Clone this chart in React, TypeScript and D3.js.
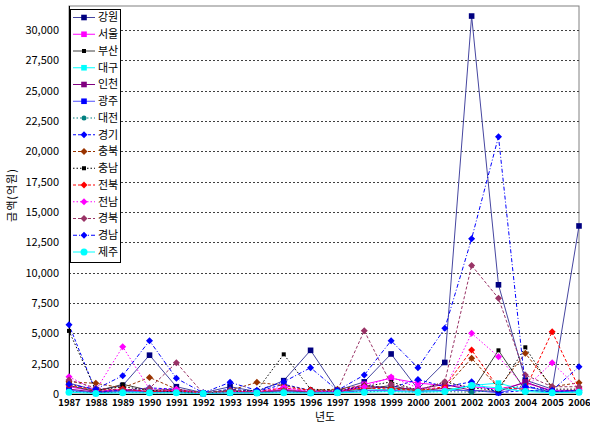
import * as d3 from 'd3';
import * as React from 'react';

const { useRef, useEffect } = React;

const width = 590;
const height = 430;
const margin = { top: 6, right: 11, bottom: 36, left: 69 };

const years = [
  '1987', '1988', '1989', '1990', '1991', '1992', '1993', '1994', '1995', '1996',
  '1997', '1998', '1999', '2000', '2001', '2002', '2003', '2004', '2005', '2006',
];

const yTicks = [0, 2500, 5000, 7500, 10000, 12500, 15000, 17500, 20000, 22500, 25000, 27500, 30000];

// 억원
const gangwon = [900, 300, 700, 3200, 600, 100, 600, 200, 1100, 3600, 300, 1000, 3300, 400, 2600, 31150, 9000, 1150, 400, 13850];
const seoul = [600, 200, 400, 200, 300, 50, 200, 150, 400, 200, 150, 800, 1300, 900, 700, 600, 400, 900, 300, 300];
const busan = [700, 200, 800, 300, 400, 50, 300, 100, 300, 100, 200, 400, 700, 200, 500, 200, 3600, 300, 200, 200];
const daegu = [300, 100, 200, 150, 200, 50, 150, 100, 200, 100, 150, 300, 400, 300, 300, 700, 900, 300, 200, 200];
const incheon = [400, 150, 300, 200, 200, 50, 150, 100, 300, 150, 150, 600, 500, 400, 800, 300, 200, 1000, 200, 300];
const gwangju = [300, 100, 200, 150, 150, 50, 100, 100, 200, 100, 100, 300, 300, 200, 300, 300, 100, 600, 150, 200];
const daejeon = [200, 100, 150, 100, 100, 50, 100, 100, 150, 100, 100, 200, 200, 150, 200, 150, 300, 700, 150, 150];
const gyeonggi = [5700, 200, 300, 500, 400, 50, 400, 200, 800, 300, 200, 700, 500, 1200, 600, 1000, 100, 300, 200, 300];
const chungbuk = [1000, 880, 500, 1370, 400, 100, 300, 960, 700, 300, 400, 700, 500, 300, 500, 2940, 500, 3350, 600, 930];
const chungnam = [5200, 300, 600, 300, 200, 50, 200, 300, 3270, 400, 300, 600, 1000, 300, 1000, 500, 300, 3850, 400, 400];
const jeonbuk = [750, 300, 410, 200, 300, 50, 200, 200, 500, 330, 250, 500, 400, 300, 600, 3625, 500, 400, 5130, 500];
const jeonnam = [1430, 300, 3900, 400, 400, 50, 200, 200, 580, 200, 200, 600, 1400, 500, 400, 5000, 3075, 500, 2580, 400];
const gyeongbuk = [1150, 500, 300, 470, 2580, 50, 300, 200, 300, 200, 300, 5215, 800, 300, 1000, 10600, 7890, 1565, 600, 600];
const gyeongnam = [800, 400, 1510, 4390, 1290, 100, 960, 300, 1000, 2170, 300, 1565, 4390, 2170, 5410, 12800, 21210, 600, 300, 2250];
const jeju = [150, 50, 100, 100, 100, 50, 100, 80, 100, 80, 100, 150, 200, 150, 200, 700, 500, 200, 100, 150];

type Series = {
  name: string;
  values: number[];
  line: string;
  mark: string;
  dash: string;
  shape: 'square' | 'diamond' | 'circle' | 'small';
};

const series: Series[] = [
  { name: '강원', values: gangwon, line: '#4646a0', mark: '#000080', dash: '', shape: 'square' },
  { name: '서울', values: seoul, line: '#ff00ff', mark: '#ff00ff', dash: '', shape: 'square' },
  { name: '부산', values: busan, line: '#404040', mark: '#000000', dash: '', shape: 'small' },
  { name: '대구', values: daegu, line: '#00ffff', mark: '#00ffff', dash: '', shape: 'square' },
  { name: '인천', values: incheon, line: '#800080', mark: '#800080', dash: '', shape: 'square' },
  { name: '광주', values: gwangju, line: '#5050ff', mark: '#0000ff', dash: '', shape: 'square' },
  { name: '대전', values: daejeon, line: '#008080', mark: '#008080', dash: '1.5,2', shape: 'circle' },
  { name: '경기', values: gyeonggi, line: '#0000ff', mark: '#0000ff', dash: '3,2', shape: 'diamond' },
  { name: '충북', values: chungbuk, line: '#993300', mark: '#993300', dash: '3,2', shape: 'diamond' },
  { name: '충남', values: chungnam, line: '#000000', mark: '#000000', dash: '1.5,2', shape: 'small' },
  { name: '전북', values: jeonbuk, line: '#ff0000', mark: '#ff0000', dash: '3,2', shape: 'diamond' },
  { name: '전남', values: jeonnam, line: '#ff00ff', mark: '#ff00ff', dash: '1.5,2', shape: 'diamond' },
  { name: '경북', values: gyeongbuk, line: '#993366', mark: '#993366', dash: '3,2', shape: 'diamond' },
  { name: '경남', values: gyeongnam, line: '#0000ff', mark: '#0000ff', dash: '4,2,1,2', shape: 'diamond' },
  { name: '제주', values: jeju, line: '#00ffff', mark: '#00ffff', dash: '', shape: 'circle' },
];

const font = '"Noto Sans CJK KR", "DejaVu Sans", sans-serif';

const drawMarker = (g: d3.Selection<any, any, any, any>, s: Series, cx: number, cy: number) => {
  if (s.shape === 'square' || s.shape === 'small') {
    const r = s.shape === 'square' ? 2.8 : 2;
    g.append('rect')
      .attr('x', cx - r)
      .attr('y', cy - r)
      .attr('width', r * 2)
      .attr('height', r * 2)
      .attr('fill', s.mark);
  } else if (s.shape === 'diamond') {
    g.append('path')
      .attr('d', `M${cx},${cy - 3.5}L${cx + 3.5},${cy}L${cx},${cy + 3.5}L${cx - 3.5},${cy}Z`)
      .attr('fill', s.mark);
  } else {
    g.append('circle')
      .attr('cx', cx)
      .attr('cy', cy)
      .attr('r', s.name === '제주' ? 3.5 : 2.5)
      .attr('fill', s.mark);
  }
};

export default () => {
  const rootRef = useRef<HTMLDivElement>(null);

  useEffect(() => {
    const rootEl = rootRef.current;
    if (!rootEl) {
      return;
    }
    d3.select(rootEl).selectAll('*').remove();

    const x = d3
      .scalePoint()
      .domain(years)
      .range([margin.left, width - margin.right]);

    const y = d3
      .scaleLinear()
      .domain([0, 30000])
      .range([394, 30]);

    const svg = d3
      .select(rootEl)
      .append('svg')
      .attr('width', width)
      .attr('height', height)
      .attr('viewBox', `0,0,${width},${height}`)
      .style('display', 'block')
      .style('background', '#fff');

    // plot frame
    svg
      .append('rect')
      .attr('x', margin.left)
      .attr('y', margin.top)
      .attr('width', width - margin.right - margin.left)
      .attr('height', y(0) - margin.top)
      .attr('fill', 'none')
      .attr('stroke', '#808080');

    // gridlines
    svg
      .append('g')
      .selectAll('line')
      .data(yTicks.slice(1))
      .join('line')
      .attr('x1', margin.left)
      .attr('x2', width - margin.right)
      .attr('y1', d => Math.round(y(d)) + 0.5)
      .attr('y2', d => Math.round(y(d)) + 0.5)
      .attr('stroke', '#404040')
      .attr('stroke-dasharray', '2,2');

    // axes
    const yAxis = svg
      .append('g')
      .attr('transform', `translate(${margin.left},0)`)
      .call(
        d3
          .axisLeft(y)
          .tickValues(yTicks)
          .tickSize(0)
          .tickPadding(10)
          .tickFormat(d3.format(',')),
      );
    yAxis.select('.domain').remove();
    yAxis
      .selectAll('text')
      .attr('font-family', font)
      .attr('font-size', 11)
      .attr('fill', '#000');

    const xAxis = svg
      .append('g')
      .attr('transform', `translate(0,${y(0)})`)
      .call(d3.axisBottom(x).tickSize(0).tickPadding(5));
    xAxis.select('.domain').remove();
    xAxis
      .selectAll('text')
      .attr('font-family', font)
      .attr('font-size', 9.5)
      .attr('font-weight', 'bold')
      .attr('fill', '#000');

    svg
      .append('line')
      .attr('x1', margin.left + 0.5)
      .attr('x2', margin.left + 0.5)
      .attr('y1', margin.top)
      .attr('y2', y(0))
      .attr('stroke', '#000');
    svg
      .append('line')
      .attr('x1', margin.left)
      .attr('x2', width - margin.right)
      .attr('y1', y(0) + 0.5)
      .attr('y2', y(0) + 0.5)
      .attr('stroke', '#000');

    // series
    const line = d3
      .line<number>()
      .x((d, i) => x(years[i]) as number)
      .y(d => y(d));

    for (const s of series) {
      const g = svg.append('g');
      g.append('path')
        .attr('d', line(s.values))
        .attr('fill', 'none')
        .attr('stroke', s.line)
        .attr('stroke-width', 1)
        .attr('stroke-dasharray', s.dash || null);
      s.values.forEach((v, i) => drawMarker(g, s, x(years[i]) as number, y(v)));
    }

    // legend
    const legend = svg.append('g').attr('transform', 'translate(70,9)');
    legend
      .append('rect')
      .attr('x', 0.5)
      .attr('y', 0.5)
      .attr('width', 50)
      .attr('height', 253)
      .attr('fill', '#fff')
      .attr('stroke', '#000');
    const item = legend
      .selectAll('g')
      .data(series)
      .join('g')
      .attr('transform', (d, i) => `translate(0,${8.5 + i * 16.75})`);
    item.each(function (s) {
      const g = d3.select(this);
      g.append('line')
        .attr('x1', 3)
        .attr('x2', 25)
        .attr('y1', 0)
        .attr('y2', 0)
        .attr('stroke', s.line)
        .attr('stroke-dasharray', s.dash || null);
      drawMarker(g, s, 14, 0);
      g.append('text')
        .attr('x', 28)
        .attr('y', 0)
        .attr('dy', '0.35em')
        .attr('font-family', font)
        .attr('font-size', 11)
        .text(s.name);
    });

    // titles
    svg
      .append('text')
      .attr('x', 325)
      .attr('y', 421)
      .attr('text-anchor', 'middle')
      .attr('font-family', font)
      .attr('font-size', 11)
      .text('년도');

    svg
      .append('text')
      .attr('transform', 'translate(12,195) rotate(-90)')
      .attr('text-anchor', 'middle')
      .attr('dy', '0.35em')
      .attr('font-family', font)
      .attr('font-size', 11)
      .attr('letter-spacing', 1)
      .text('금액(억원)');
  }, []);

  return <div ref={rootRef} style={{ position: 'absolute', left: 0, top: 0 }} />;
};
